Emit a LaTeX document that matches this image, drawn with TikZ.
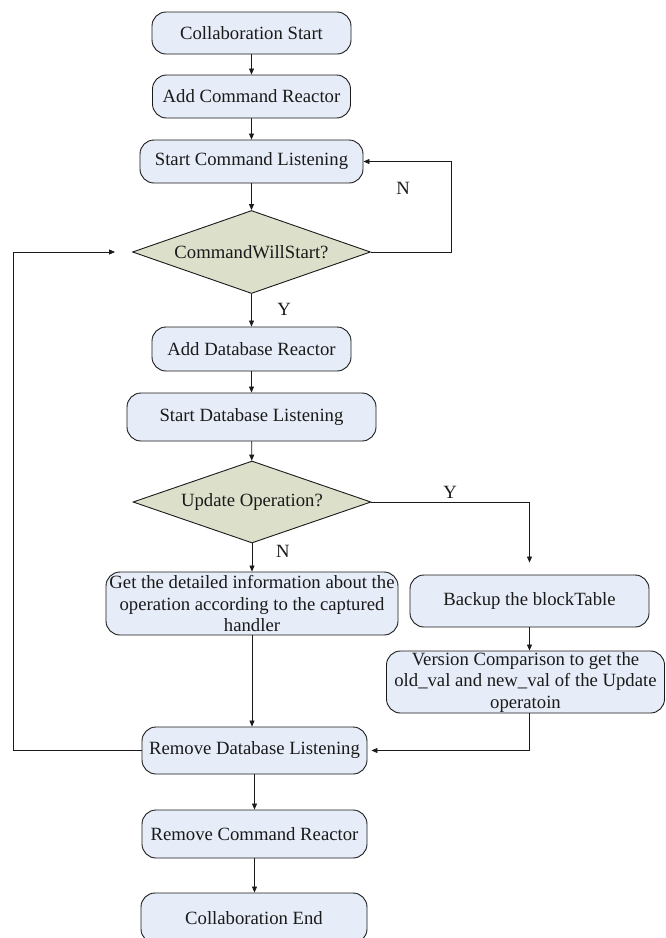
\documentclass[tikz,border=0pt]{standalone}
\usepackage{fontspec}
\setmainfont{Liberation Serif}
\usetikzlibrary{arrows.meta,shapes.geometric}
\definecolor{boxfill}{HTML}{E7EDF8}
\definecolor{decfill}{HTML}{DCE0CA}
\definecolor{ink}{HTML}{1A1A1A}
\tikzset{
  x=1pt, y=-1pt,
  every node/.style={font=\fontsize{18.7}{21.5}\selectfont, text=ink},
  procbox/.style={draw=ink, line width=0.9pt, fill=boxfill, rounded corners=14pt,
    align=center, inner sep=0pt},
  decbox/.style={draw=ink, line width=0.9pt, fill=decfill, diamond, aspect=2.87,
    inner sep=0pt},
  flow/.style={draw=ink, line width=0.8pt, -{Triangle[length=6pt,width=5pt]}},
  lbl/.style={font=\fontsize{18.7}{21.5}\selectfont}
}
\begin{document}
\begin{tikzpicture}
\useasboundingbox (0,0) rectangle (665,938);

% main column
\node[procbox, minimum width=199pt, minimum height=42pt] (cs) at (251.5,33) {Collaboration Start};
\node[procbox, minimum width=198pt, minimum height=43pt] (acr) at (251.5,96.5) {Add Command Reactor};
\node[procbox, minimum width=223pt, minimum height=43pt] (scl) at (251.5,161.5) {Start Command Listening};
\node[decbox, minimum width=238pt, minimum height=83pt] (d1) at (251.5,252) {CommandWillStart?};
\node[procbox, minimum width=199pt, minimum height=44pt] (adr) at (251.5,349) {Add Database Reactor};
\node[procbox, minimum width=249pt, minimum height=48pt] (sdl) at (251.5,417) {Start Database Listening};
\node[decbox, minimum width=238pt, minimum height=82pt] (d2) at (252,502) {Update Operation?};
\node[procbox, minimum width=292pt, minimum height=63pt] (get) at (252,603.5)
  {Get the detailed information about the\\operation according to the captured\\handler};
\node[procbox, minimum width=225pt, minimum height=47pt] (rdl) at (254.5,750.5) {Remove Database Listening};
\node[procbox, minimum width=225pt, minimum height=48pt] (rcr) at (254.5,834) {Remove Command Reactor};
\node[procbox, minimum width=226pt, minimum height=50pt] (ce) at (254,918) {Collaboration End};

% update branch
\node[procbox, minimum width=239pt, minimum height=52pt] (bak) at (529.5,601) {Backup the blockTable};
\node[procbox, minimum width=278pt, minimum height=62pt] (ver) at (525.5,682)
  {Version Comparison to get the\\old\_val and new\_val of the Update\\operatoin};

% bend points
\coordinate (yturn) at (529.5,502);
\coordinate (vturn) at (529.5,750.5);
\coordinate (lbot) at (13,750.5);
\coordinate (ltop) at (13,252);
\coordinate (nbot) at (451,252);
\coordinate (ntop) at (451,161.5);

% connectors
\draw[flow] (cs) -- (acr);
\draw[flow] (acr) -- (scl);
\draw[flow] (scl) -- (d1);
\draw[flow] (d1) -- (adr);
\draw[flow] (adr) -- (sdl);
\draw[flow] (sdl) -- (d2);
\draw[flow] (d2) -- (get);
\draw[flow] (get.south) -- (get.south |- rdl.north);
\draw[flow] (rdl.south) -- (rdl.south |- rcr.north);
\draw[flow] (rcr.south) -- (rcr.south |- ce.north);
\draw[flow, shorten >=12pt] (d2.east) -- (yturn) -- (bak.north);
\draw[flow] (bak.south) -- (bak.south |- ver.north);
\draw[flow, shorten >=4pt] (ver.south -| yturn) -- (vturn) -- (rdl.east);
\draw[flow, shorten >=17pt] (rdl.west) -- (lbot) -- (ltop) -- (d1.west);
\draw[flow] (d1.east) -- (nbot) -- (ntop) -- (scl.east);

% branch labels
\node[lbl] (ny) at (403,188) {N};
\node[lbl] (yy1) at (284,309) {Y};
\node[lbl] (yy2) at (450,492) {Y};
\node[lbl] (nn2) at (283,551) {N};
\end{tikzpicture}
\end{document}
